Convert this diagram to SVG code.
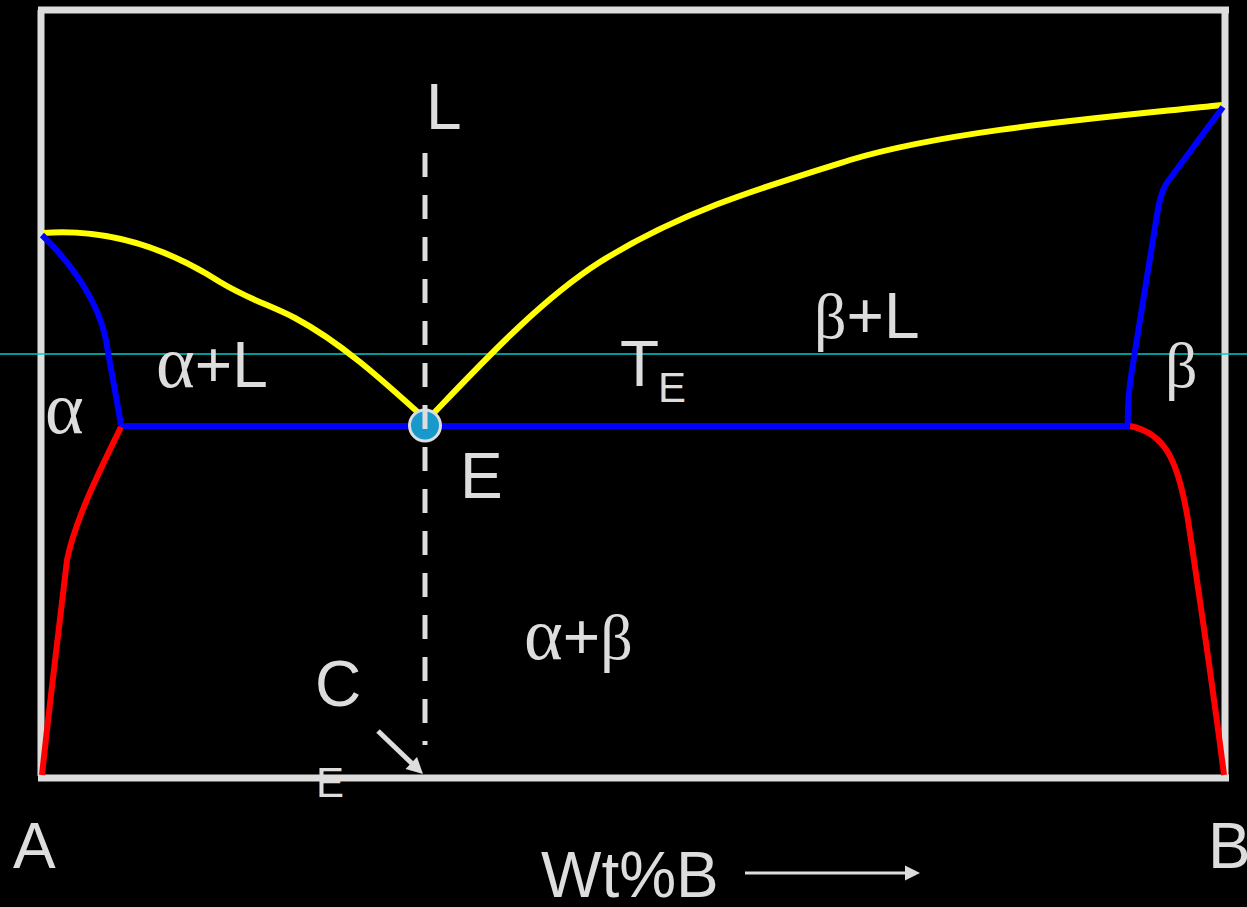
<svg xmlns="http://www.w3.org/2000/svg" width="1247" height="907" viewBox="0 0 1247 907">
<defs>
<style>
.t{font-family:"Liberation Sans",Arial,sans-serif;font-size:64px;fill:#dddddd}
.s{font-family:"Liberation Sans",Arial,sans-serif;font-size:42px;fill:#dddddd}
.c{fill:none;stroke-width:6;stroke-linecap:butt;stroke-linejoin:round}
.y{stroke:#ffff00}.b{stroke:#0000ff}.r{stroke:#ff0000}
.f{stroke:#dddddd;stroke-width:7;fill:none}
.ah{fill:#dddddd}
</style>
</defs>
<rect x="0" y="0" width="1247" height="907" fill="#000000"/>
<g id="label-CE-sub"><text class="s" x="316" y="797">E</text></g>
<g id="frame">
<path class="f" d="M41,10 V776 M38,10 H1229 M1225,10 V776 M38,778 H1229"/>
</g>
<g id="isotherm-guide"><line x1="0" y1="354" x2="1247" y2="354" stroke="#00cccc" stroke-width="1.3"/></g>
<g id="connectors">
<path id="liquidus-left" class="c y" d="M43,233 C110,228 170,250 220,282 C250,300 270,305 295,318 C340,342 380,378 422,416"/>
<path id="liquidus-right" class="c y" d="M431,416 C480,365 540,300 600,262 C680,212 760,188 850,160 C950,130 1100,118 1222,105"/>
<path id="solidus-left" class="c b" d="M42,235 C70,262 98,300 106,340 C110,365 117,400 121,425"/>
<path id="eutectic-line" class="c b" d="M120,426 H1129"/>
<path id="solidus-right" class="c b" d="M1223,107 L1166,184 Q1160,195 1157,215 L1132,370 Q1127,400 1128,425"/>
<path id="solvus-left" class="c r" d="M121,427 C100,470 75,520 67,560 C60,620 50,700 42,775"/>
<path id="solvus-right" class="c r" d="M1130,426 C1165,433 1178,460 1188,520 C1200,600 1212,680 1224,775"/>
<g id="CE-arrow">
<line x1="378" y1="731" x2="412" y2="763.5" stroke="#dddddd" stroke-width="5"/>
<polygon class="ah" points="423,774 405.5,769 417,757"/>
</g>
<g id="wt-arrow">
<line x1="745" y1="873" x2="907" y2="873" stroke="#dddddd" stroke-width="3"/>
<polygon class="ah" points="920,873 905,865.5 905,880.5"/>
</g>
</g>
<g id="point-E"><circle cx="425" cy="425.5" r="15.5" fill="#1899cc" stroke="#dddddd" stroke-width="3"/></g>
<g id="composition-line"><line x1="425" y1="153" x2="425" y2="745" stroke="#dddddd" stroke-width="5" stroke-dasharray="24 18"/></g>
<g id="label-L"><text class="t" x="426" y="129">L</text></g>
<g id="label-alphaL"><text class="t" x="156" y="387"><tspan style="font-family:'Liberation Serif','DejaVu Serif',serif;font-size:74px">α</tspan>+L</text></g>
<g id="label-alpha"><text class="t" x="45" y="433" style="font-family:'Liberation Serif','DejaVu Serif',serif;font-size:74px">α</text></g>
<g id="label-TE"><text class="t" x="620" y="386">T</text><text class="s" x="658" y="402">E</text></g>
<g id="label-betaL"><text class="t" x="814" y="338"><tspan style="font-family:'Liberation Serif','DejaVu Serif',serif">β</tspan>+L</text></g>
<g id="label-beta"><text class="t" x="1165" y="387" style="font-family:'Liberation Serif','DejaVu Serif',serif">β</text></g>
<g id="label-E"><text class="t" x="460" y="498">E</text></g>
<g id="label-alphabeta"><text class="t" x="524" y="659"><tspan style="font-family:'Liberation Serif','DejaVu Serif',serif;font-size:74px">α</tspan>+<tspan style="font-family:'Liberation Serif','DejaVu Serif',serif">β</tspan></text></g>
<g id="label-C"><text class="t" x="315" y="706">C</text></g>
<g id="label-A"><text class="t" x="13" y="868">A</text></g>
<g id="label-B"><text class="t" x="1208" y="868">B</text></g>
<g id="label-wt"><text class="t" x="541" y="897">Wt%B</text></g>
</svg>
